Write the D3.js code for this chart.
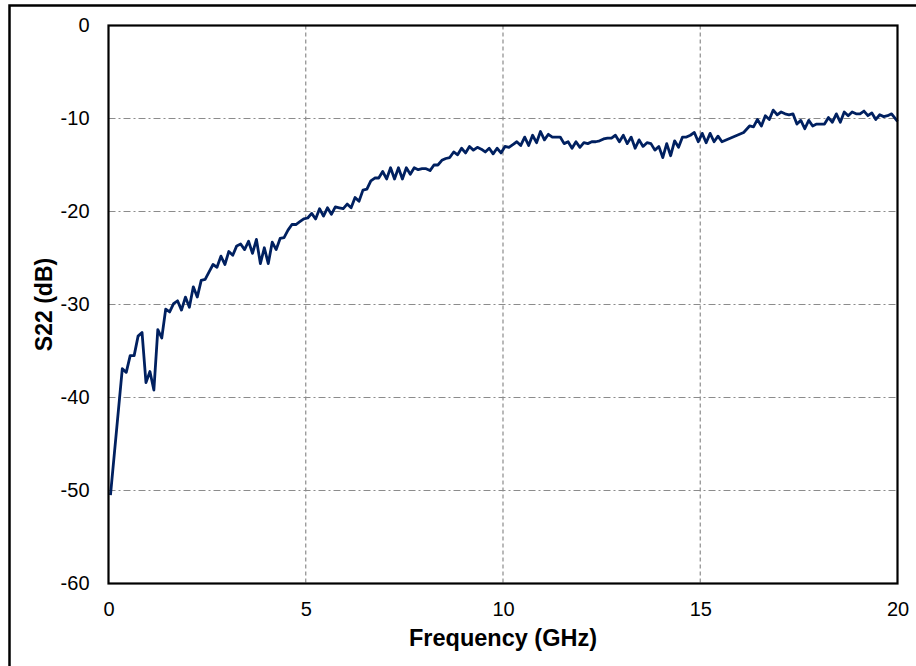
<!DOCTYPE html>
<html>
<head>
<meta charset="utf-8">
<script src="https://cdn.jsdelivr.net/npm/d3@7"></script>
<style>
  body { margin: 0; background: #fff; }
  svg { display: block; font-family: "Liberation Sans", Arial, sans-serif; }
</style>
</head>
<body>
<svg id="chart" width="916" height="666"></svg>
<script>
// S22 sweep (GHz, dB)
let freq = [
  0.05, 0.35, 0.45, 0.55, 0.65, 0.75, 0.85, 0.95, 1.05, 1.15,
  1.25, 1.35, 1.45, 1.55, 1.65, 1.75, 1.85, 1.95, 2.05, 2.15,
  2.25, 2.35, 2.45, 2.55, 2.65, 2.75, 2.85, 2.95, 3.05, 3.15,
  3.25, 3.35, 3.45, 3.55, 3.65, 3.75, 3.85, 3.95, 4.05, 4.15,
  4.25, 4.35, 4.45, 4.55, 4.65, 4.75, 4.85, 4.95, 5.05, 5.15,
  5.25, 5.35, 5.45, 5.55, 5.65, 5.75, 5.85, 5.95, 6.05, 6.15,
  6.25, 6.35, 6.45, 6.55, 6.65, 6.75, 6.85, 6.95, 7.05, 7.15,
  7.25, 7.35, 7.45, 7.55, 7.65, 7.75, 7.85, 7.95, 8.05, 8.15,
  8.25, 8.35, 8.45, 8.55, 8.65, 8.75, 8.85, 8.95, 9.05, 9.15,
  9.25, 9.35, 9.45, 9.55, 9.65, 9.75, 9.85, 9.95, 10.05, 10.15,
  10.25, 10.35, 10.45, 10.55, 10.65, 10.75, 10.85, 10.95, 11.05, 11.15,
  11.25, 11.35, 11.45, 11.55, 11.65, 11.75, 11.85, 11.95, 12.05, 12.15,
  12.25, 12.35, 12.45, 12.55, 12.65, 12.75, 12.85, 12.95, 13.05, 13.15,
  13.25, 13.35, 13.45, 13.55, 13.65, 13.75, 13.85, 13.95, 14.05, 14.15,
  14.25, 14.35, 14.45, 14.55, 14.65, 14.75, 14.85, 14.95, 15.05, 15.15,
  15.25, 15.35, 15.45, 15.55, 16.1, 16.25, 16.35, 16.45, 16.55, 16.65,
  16.75, 16.85, 16.95, 17.05, 17.15, 17.25, 17.35, 17.45, 17.55, 17.65,
  17.75, 17.85, 17.95, 18.05, 18.15, 18.25, 18.35, 18.45, 18.55, 18.65,
  18.75, 18.85, 18.95, 19.05, 19.15, 19.25, 19.35, 19.45, 19.55, 19.65,
  19.75, 19.85, 20.0
];

let s22 = [
  -50.5, -36.9, -37.3, -35.5, -35.5, -33.4, -33.0, -38.4, -37.2, -39.2,
  -32.7, -33.6, -30.5, -30.8, -29.9, -29.6, -30.6, -29.2, -30.3, -28.1,
  -29.2, -27.4, -27.3, -26.5, -25.7, -26.0, -24.8, -25.7, -24.3, -24.7,
  -23.7, -23.5, -24.1, -23.2, -24.5, -23.0, -25.6, -23.9, -25.6, -23.3,
  -24.1, -22.9, -22.8, -22.0, -21.4, -21.4, -21.1, -20.8, -20.7, -20.2,
  -20.8, -19.7, -20.5, -19.6, -20.3, -19.5, -19.6, -19.7, -19.2, -19.6,
  -18.5, -18.9, -17.7, -17.6, -16.7, -16.4, -16.4, -15.7, -16.5, -15.3,
  -16.5, -15.3, -16.5, -15.3, -16.0, -15.3, -15.5, -15.4, -15.4, -15.6,
  -15.0, -15.0, -14.5, -14.3, -14.2, -13.6, -13.9, -13.2, -13.7, -13.0,
  -13.4, -13.1, -13.3, -13.6, -13.2, -13.8, -13.2, -13.7, -13.0, -13.1,
  -12.8, -12.5, -12.9, -12.0, -12.9, -11.8, -12.6, -11.4, -12.3, -11.7,
  -12.0, -12.0, -12.0, -12.7, -12.5, -13.2, -12.5, -13.1, -12.6, -12.7,
  -12.5, -12.5, -12.4, -12.2, -12.1, -12.1, -11.8, -12.5, -11.8, -12.7,
  -12.0, -13.2, -12.3, -13.0, -12.6, -12.7, -13.4, -13.0, -14.2, -12.7,
  -14.0, -12.4, -13.1, -12.0, -12.0, -11.8, -11.5, -12.5, -11.6, -12.6,
  -11.6, -12.5, -11.9, -12.5, -11.5, -10.8, -10.9, -10.1, -10.8, -9.7,
  -10.1, -9.1, -9.6, -9.3, -9.5, -9.6, -9.5, -10.6, -10.2, -11.1,
  -10.2, -10.8, -10.6, -10.6, -10.6, -9.9, -10.4, -9.5, -10.4, -9.3,
  -9.7, -9.3, -9.5, -9.5, -9.2, -9.7, -9.4, -10.1, -9.6, -9.8,
  -9.7, -9.5, -10.3
];

let xTicks = [0, 5, 10, 15, 20];
let yTicks = [0, -10, -20, -30, -40, -50, -60];

let points = freq.map((f, i) => ({ f: f, db: s22[i] }));

let svg = d3.select("#chart");

// outer chart frame (runs off the right and bottom edge)
svg.append("rect")
  .attr("x", 9.5)
  .attr("y", 5.5)
  .attr("width", 920)
  .attr("height", 680)
  .attr("fill", "none")
  .attr("stroke", "#000")
  .attr("stroke-width", 2.5);

let plotL = 108.5, plotT = 25.5, plotR = 897.5, plotB = 583.5;

let xScale = d3.scaleLinear()
  .domain([0, 20])
  .range([plotL, plotR]);

let yScale = d3.scaleLinear()
  .domain([-60, 0])
  .range([plotB, plotT]);

// horizontal grid, dash-dot
svg.append("g")
  .selectAll("line")
  .data(yTicks.filter(d => d != 0 && d != -60))
  .join("line")
  .attr("x1", plotL)
  .attr("x2", plotR)
  .attr("y1", d => yScale(d))
  .attr("y2", d => yScale(d))
  .attr("stroke", "#8c8c8c")
  .attr("stroke-width", 1.2)
  .attr("stroke-dasharray", "7,3,2,3");

// vertical grid, dashed
svg.append("g")
  .selectAll("line")
  .data(xTicks.filter(d => d != 0 && d != 20))
  .join("line")
  .attr("x1", d => xScale(d))
  .attr("x2", d => xScale(d))
  .attr("y1", plotT)
  .attr("y2", plotB)
  .attr("stroke", "#8c8c8c")
  .attr("stroke-width", 1.2)
  .attr("stroke-dasharray", "4,3");

// axes, no tick marks; plain hyphen for negatives like the original
let yAxis = svg.append("g")
  .attr("transform", "translate(" + plotL + ",0)")
  .call(d3.axisLeft(yScale)
    .tickValues(yTicks)
    .tickSize(0)
    .tickPadding(19)
    .tickFormat(d => String(d)));

let xAxis = svg.append("g")
  .attr("transform", "translate(0," + plotB + ")")
  .call(d3.axisBottom(xScale)
    .tickValues(xTicks)
    .tickSize(0)
    .tickPadding(18)
    .tickFormat(d => String(d)));

[xAxis, yAxis].forEach(a => {
  a.select(".domain").remove();
  a.selectAll("text")
    .style("font-family", "'Liberation Sans', Arial, sans-serif")
    .style("font-size", "20px")
    .attr("fill", "#000");
});

// data line
let line = d3.line()
  .x(d => xScale(d.f))
  .y(d => yScale(d.db));

svg.append("path")
  .datum(points)
  .attr("d", line)
  .attr("fill", "none")
  .attr("stroke", "#002060")
  .attr("stroke-width", 2.8)
  .attr("stroke-linejoin", "round");

// plot area border
svg.append("rect")
  .attr("x", plotL)
  .attr("y", plotT)
  .attr("width", plotR - plotL)
  .attr("height", plotB - plotT)
  .attr("fill", "none")
  .attr("stroke", "#000")
  .attr("stroke-width", 2.2);

// axis titles
svg.append("text")
  .attr("x", (plotL + plotR) / 2)
  .attr("y", 646)
  .attr("text-anchor", "middle")
  .style("font-size", "23.5px")
  .style("font-weight", "bold")
  .text("Frequency (GHz)");

svg.append("text")
  .attr("transform", "translate(52," + (plotT + plotB) / 2 + ") rotate(-90)")
  .attr("text-anchor", "middle")
  .style("font-size", "23px")
  .style("font-weight", "bold")
  .text("S22 (dB)");
</script>
</body>
</html>
